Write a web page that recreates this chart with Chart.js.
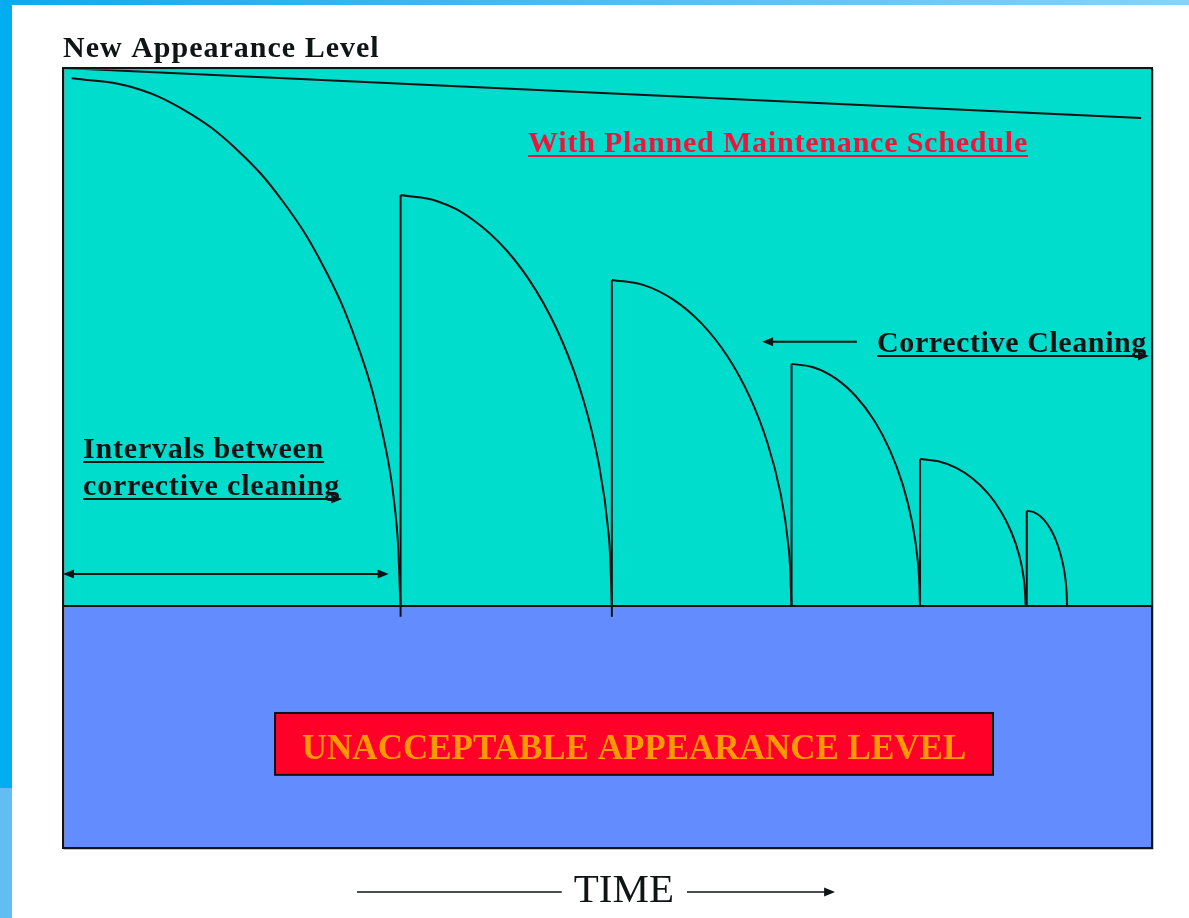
<!DOCTYPE html>
<html>
<head>
<meta charset="utf-8">
<title>Appearance level over time</title>
<script src="https://cdn.jsdelivr.net/npm/chart.js@4.4.1/dist/chart.umd.min.js"></script>
<style>
  html, body { margin: 0; padding: 0; background: #fff; overflow: hidden; }
  .stripe-top { position: absolute; left: 0; top: 0; width: 1189px; height: 5px; background: linear-gradient(to right, #12a7ef, #86d3f7); }
  .stripe-left { position: absolute; left: 0; top: 0; width: 12px; height: 918px; background: linear-gradient(to bottom, #00aeef 0, #00aeef 788px, #62bef2 788px); }
  #wrap { position: absolute; left: 0; top: 0; width: 1189px; height: 918px; }
</style>
</head>
<body>
<div class="stripe-top"></div>
<div class="stripe-left"></div>
<div id="wrap"><canvas id="myChart" width="1189" height="918"></canvas></div>
<script>
// time runs 0..100 across the frame, level 100 = new, 0 = unacceptable
var plannedTime = [0, 99.0];
var plannedLevel = [100, 90.7];

// corrective cleanings: when they happen and the level they bring back
var cleanTime = [31.0, 50.4, 66.9, 78.7, 88.5];
var cleanFrom = [-2, -2, 0, 0, 0];
var cleanLevel = [76.4, 60.6, 45.0, 27.3, 17.7];

// decay of appearance between cleanings
var decayTime = [
    [0.8, 6.04, 11.13, 15.9, 20.21, 23.93, 26.95, 29.18, 30.54, 31.0],
    [31.0, 34.37, 37.63, 40.7, 43.47, 45.86, 47.8, 49.23, 50.11, 50.4],
    [50.4, 53.26, 56.04, 58.65, 61.01, 63.04, 64.69, 65.91, 66.65, 66.9],
    [66.9, 68.95, 70.94, 72.8, 74.49, 75.94, 77.12, 77.99, 78.52, 78.7],
    [78.7, 80.38, 82.02, 83.55, 84.94, 86.13, 87.1, 87.82, 88.25, 88.4],
    [88.5, 89.14, 89.77, 90.35, 90.88, 91.33, 91.7, 91.98, 92.14, 92.2]
];
var decayLevel = [
    [98.1, 96.61, 92.18, 84.96, 75.14, 63.06, 49.05, 33.55, 17.03, 0],
    [76.4, 75.24, 71.79, 66.16, 58.52, 49.11, 38.2, 26.13, 13.26, 0],
    [60.6, 59.68, 56.95, 52.48, 46.42, 38.95, 30.3, 20.73, 10.52, 0],
    [45.0, 44.32, 42.29, 38.97, 34.47, 28.93, 22.5, 15.39, 7.81, 0],
    [27.3, 26.88, 25.65, 23.64, 20.91, 17.55, 13.65, 9.34, 4.74, 0],
    [17.7, 17.43, 16.63, 15.33, 13.56, 11.38, 8.85, 6.05, 3.07, 0]
];

var ink = '#101414';
var serif = '"Liberation Serif", "Times New Roman", serif';

function points(xs, ys) {
    return xs.map(function(x, i) { return { x: x, y: ys[i] }; });
}

function line(data, tension) {
    return {
        data: data,
        showLine: true,
        pointRadius: 0,
        borderColor: ink,
        backgroundColor: ink,
        borderWidth: 2,
        tension: tension || 0
    };
}

var datasets = [];
datasets.push(line(points(plannedTime, plannedLevel)));
decayTime.forEach(function(times, k) {
    datasets.push(line(points(times, decayLevel[k]), 0.4));
});
cleanTime.forEach(function(t, k) {
    datasets.push(line(points([t, t], [cleanFrom[k], cleanLevel[k]])));
});

function arrowHead(c, x, y, dir) {
    c.beginPath();
    c.moveTo(x, y);
    c.lineTo(x - dir * 11, y - 4.5);
    c.lineTo(x - dir * 11, y + 4.5);
    c.closePath();
    c.fill();
}

function hline(c, x1, x2, y, w) {
    c.lineWidth = w || 2;
    c.beginPath();
    c.moveTo(x1, y);
    c.lineTo(x2, y);
    c.stroke();
}

// writes a label, returns its width
function label(c, text, x, y, font, color, align, underline, spacing) {
    c.font = font;
    c.fillStyle = color;
    c.strokeStyle = color;
    c.textAlign = align || 'left';
    c.textBaseline = 'alphabetic';
    c.letterSpacing = spacing || '0px';
    c.fillText(text, x, y);
    var w = c.measureText(text).width;
    if (underline) {
        var x0 = align === 'center' ? x - w / 2 : x;
        hline(c, x0, x0 + w, y + 4, 2);
    }
    c.letterSpacing = '0px';
    return w;
}

var diagram = {
    id: 'diagram',
    beforeDatasetsDraw: function(chart) {
        var c = chart.ctx, sx = chart.scales.x, sy = chart.scales.y;
        var l = sx.getPixelForValue(0), r = sx.getPixelForValue(100);
        var top = sy.getPixelForValue(100), mid = sy.getPixelForValue(0), bot = sy.getPixelForValue(-45);
        c.save();
        c.fillStyle = '#00ddcc';
        c.fillRect(l, top, r - l, mid - top);
        c.fillStyle = '#638cff';
        c.fillRect(l, mid, r - l, bot - mid);
        c.restore();
    },
    afterDatasetsDraw: function(chart) {
        var c = chart.ctx, sx = chart.scales.x, sy = chart.scales.y;
        var X = function(v) { return sx.getPixelForValue(v); };
        var Y = function(v) { return sy.getPixelForValue(v); };
        var l = X(0), r = X(100), top = Y(100), mid = Y(0), bot = Y(-45);
        c.save();

        // frame and threshold line
        c.strokeStyle = '#888';
        c.lineWidth = 1;
        c.strokeRect(l + 1, top + 1, r - l, bot - top);
        c.strokeStyle = ink;
        c.lineWidth = 2;
        c.strokeRect(l, top, r - l, bot - top);
        hline(c, l, r, mid, 2);

        // labels in the upper area
        label(c, 'New Appearance Level', X(0), Y(102.0), 'bold 30px ' + serif, ink, 'left', false, '1px');
        label(c, 'With Planned Maintenance Schedule', X(42.7), Y(84.4), 'bold 30px ' + serif, '#f0143c', 'left', true, '0.8px');

        var w = label(c, 'Corrective Cleaning', X(74.75), Y(47.2), 'bold 30px ' + serif, ink, 'left', true, '0.6px');
        c.fillStyle = ink;
        arrowHead(c, X(74.75) + w + 2, Y(47.2) + 4, 1);
        c.strokeStyle = ink;
        hline(c, X(72.9), X(64.2) + 4, Y(49.1), 2);
        arrowHead(c, X(64.2), Y(49.1), -1);

        label(c, 'Intervals between', X(1.84), Y(27.5), 'bold 30px ' + serif, ink, 'left', true, '0.8px');
        w = label(c, 'corrective cleaning', X(1.84), Y(20.6), 'bold 30px ' + serif, ink, 'left', true, '0.8px');
        c.fillStyle = ink;
        arrowHead(c, X(1.84) + w + 2, Y(20.6) + 4, 1);

        // interval double arrow
        c.strokeStyle = ink;
        hline(c, X(0) + 3, X(29.9) - 3, Y(5.95), 2);
        arrowHead(c, X(0), Y(5.95), -1);
        arrowHead(c, X(29.9), Y(5.95), 1);

        // unacceptable box
        var bx0 = X(19.47), bx1 = X(85.4), by0 = Y(-19.9), by1 = Y(-31.4);
        c.fillStyle = '#ff0028';
        c.fillRect(bx0, by0, bx1 - bx0, by1 - by0);
        c.strokeStyle = '#111';
        c.lineWidth = 2;
        c.strokeRect(bx0, by0, bx1 - bx0, by1 - by0);
        label(c, 'UNACCEPTABLE APPEARANCE LEVEL', (bx0 + bx1) / 2, Y(-28.4), 'bold 35px ' + serif, '#ff9900', 'center', false);

        // time axis caption
        label(c, 'TIME', X(51.5), Y(-55.0), '41px ' + serif, ink, 'center', false);
        c.strokeStyle = ink;
        c.fillStyle = ink;
        hline(c, X(27.0), X(45.8), Y(-53.2), 1.5);
        hline(c, X(57.3), X(70.9) - 6, Y(-53.2), 1.5);
        arrowHead(c, X(70.9), Y(-53.2), 1);

        c.restore();
    }
};

var ctx = document.getElementById('myChart').getContext('2d');
var chart = new Chart(ctx, {
    type: 'scatter',
    data: { datasets: datasets },
    options: {
        responsive: false,
        animation: false,
        layout: { padding: { left: 63, right: 37, top: 68, bottom: 70 } },
        plugins: { legend: { display: false }, tooltip: { enabled: false } },
        scales: {
            x: { type: 'linear', min: 0, max: 100, display: false },
            y: { type: 'linear', min: -45, max: 100, display: false }
        }
    },
    plugins: [diagram]
});
</script>
</body>
</html>
